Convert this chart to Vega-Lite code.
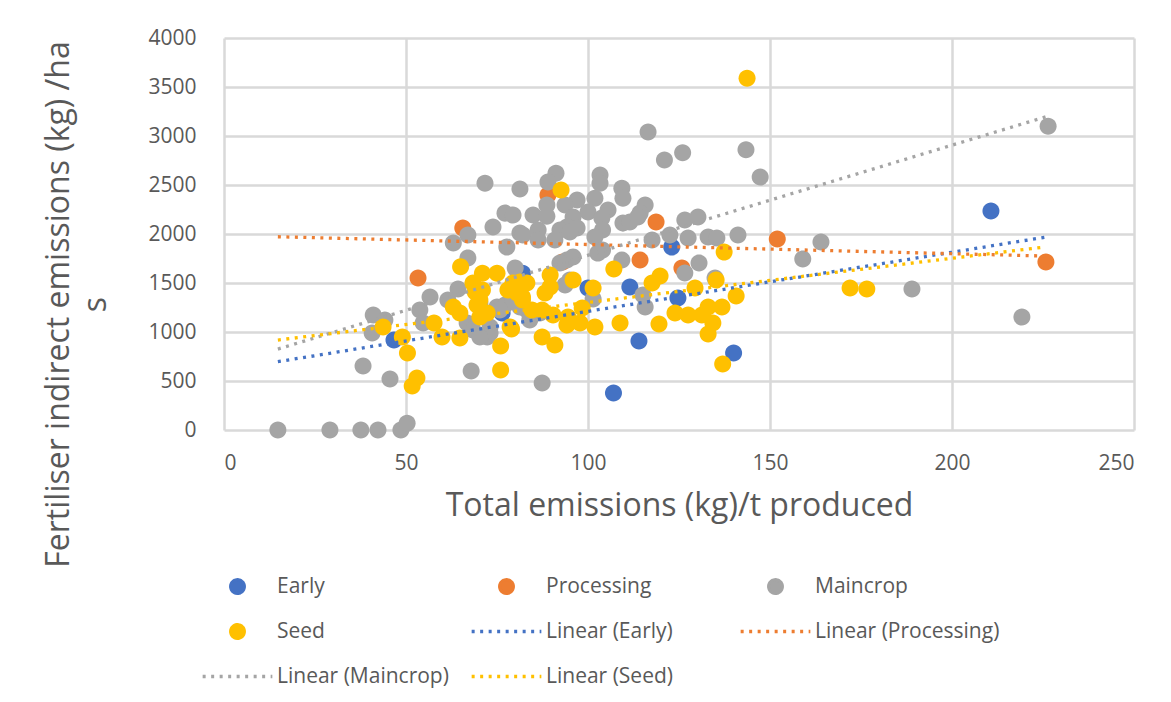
{
  "$schema": "https://vega.github.io/schema/vega-lite/v6.json",
  "width": 910,
  "height": 392,
  "autosize": {"type": "none"},
  "padding": {"left": 224, "top": 38, "right": 37, "bottom": 272},
  "background": "white",
  "config": {
    "font": "Open Sans",
    "view": {"stroke": null},
    "axis": {
      "gridColor": "#D9D9D9",
      "gridWidth": 2.5,
      "domain": false,
      "ticks": false,
      "labelFontSize": 21,
      "labelColor": "#595959",
      "titleColor": "#595959",
      "titleFontSize": 32,
      "titleFontWeight": "normal"
    }
  },
  "datasets": {
    "points": [
      {"series": "Early", "total": 46.7, "fertiliser": 918},
      {"series": "Early", "total": 76.4, "fertiliser": 1193},
      {"series": "Early", "total": 82, "fertiliser": 1600},
      {"series": "Early", "total": 100, "fertiliser": 1448},
      {"series": "Early", "total": 107, "fertiliser": 377},
      {"series": "Early", "total": 111.5, "fertiliser": 1458},
      {"series": "Early", "total": 114, "fertiliser": 908},
      {"series": "Early", "total": 123, "fertiliser": 1867},
      {"series": "Early", "total": 124.7, "fertiliser": 1346},
      {"series": "Early", "total": 140, "fertiliser": 785},
      {"series": "Early", "total": 210.7, "fertiliser": 2234},
      {"series": "Processing", "total": 53.3, "fertiliser": 1550},
      {"series": "Processing", "total": 65.6, "fertiliser": 2060},
      {"series": "Processing", "total": 89, "fertiliser": 2397},
      {"series": "Processing", "total": 93, "fertiliser": 1714},
      {"series": "Processing", "total": 114.3, "fertiliser": 1734},
      {"series": "Processing", "total": 118.7, "fertiliser": 2122},
      {"series": "Processing", "total": 125.8, "fertiliser": 1652},
      {"series": "Processing", "total": 152, "fertiliser": 1948},
      {"series": "Processing", "total": 225.8, "fertiliser": 1714},
      {"series": "Maincrop", "total": 14.8, "fertiliser": 0},
      {"series": "Maincrop", "total": 29.1, "fertiliser": 0},
      {"series": "Maincrop", "total": 37.6, "fertiliser": 0},
      {"series": "Maincrop", "total": 42.3, "fertiliser": 0},
      {"series": "Maincrop", "total": 48.6, "fertiliser": 0},
      {"series": "Maincrop", "total": 50.3, "fertiliser": 70},
      {"series": "Maincrop", "total": 38.2, "fertiliser": 653},
      {"series": "Maincrop", "total": 45.6, "fertiliser": 520},
      {"series": "Maincrop", "total": 67.9, "fertiliser": 602},
      {"series": "Maincrop", "total": 87.4, "fertiliser": 479},
      {"series": "Maincrop", "total": 41, "fertiliser": 1173},
      {"series": "Maincrop", "total": 44.2, "fertiliser": 1122},
      {"series": "Maincrop", "total": 40.7, "fertiliser": 989},
      {"series": "Maincrop", "total": 53.8, "fertiliser": 1224},
      {"series": "Maincrop", "total": 56.6, "fertiliser": 1357},
      {"series": "Maincrop", "total": 54.7, "fertiliser": 1091},
      {"series": "Maincrop", "total": 64.3, "fertiliser": 1438},
      {"series": "Maincrop", "total": 61.5, "fertiliser": 1326},
      {"series": "Maincrop", "total": 67, "fertiliser": 1754},
      {"series": "Maincrop", "total": 63, "fertiliser": 1907},
      {"series": "Maincrop", "total": 67, "fertiliser": 1989},
      {"series": "Maincrop", "total": 73.9, "fertiliser": 2071},
      {"series": "Maincrop", "total": 71.7, "fertiliser": 2519},
      {"series": "Maincrop", "total": 77.2, "fertiliser": 2213},
      {"series": "Maincrop", "total": 79.4, "fertiliser": 2193},
      {"series": "Maincrop", "total": 81.3, "fertiliser": 2458},
      {"series": "Maincrop", "total": 81.3, "fertiliser": 2009},
      {"series": "Maincrop", "total": 77.7, "fertiliser": 1867},
      {"series": "Maincrop", "total": 80, "fertiliser": 1652},
      {"series": "Maincrop", "total": 66.8, "fertiliser": 1091},
      {"series": "Maincrop", "total": 68.4, "fertiliser": 1020},
      {"series": "Maincrop", "total": 72.3, "fertiliser": 949},
      {"series": "Maincrop", "total": 73.1, "fertiliser": 1050},
      {"series": "Maincrop", "total": 75, "fertiliser": 1255},
      {"series": "Maincrop", "total": 77.2, "fertiliser": 1275},
      {"series": "Maincrop", "total": 73.1, "fertiliser": 989},
      {"series": "Maincrop", "total": 83.2, "fertiliser": 1224},
      {"series": "Maincrop", "total": 86.8, "fertiliser": 1193},
      {"series": "Maincrop", "total": 70.3, "fertiliser": 1295},
      {"series": "Maincrop", "total": 79.4, "fertiliser": 1326},
      {"series": "Maincrop", "total": 81.3, "fertiliser": 1255},
      {"series": "Maincrop", "total": 84, "fertiliser": 1122},
      {"series": "Maincrop", "total": 86, "fertiliser": 1193},
      {"series": "Maincrop", "total": 75.8, "fertiliser": 1224},
      {"series": "Maincrop", "total": 70.3, "fertiliser": 949},
      {"series": "Maincrop", "total": 91.2, "fertiliser": 2621},
      {"series": "Maincrop", "total": 89, "fertiliser": 2530},
      {"series": "Maincrop", "total": 103.3, "fertiliser": 2601},
      {"series": "Maincrop", "total": 103.3, "fertiliser": 2519},
      {"series": "Maincrop", "total": 109.3, "fertiliser": 2468},
      {"series": "Maincrop", "total": 109.6, "fertiliser": 2366},
      {"series": "Maincrop", "total": 115.7, "fertiliser": 2295},
      {"series": "Maincrop", "total": 114.3, "fertiliser": 2213},
      {"series": "Maincrop", "total": 97, "fertiliser": 2346},
      {"series": "Maincrop", "total": 93.7, "fertiliser": 2295},
      {"series": "Maincrop", "total": 88.7, "fertiliser": 2295},
      {"series": "Maincrop", "total": 84.9, "fertiliser": 2193},
      {"series": "Maincrop", "total": 101.9, "fertiliser": 2366},
      {"series": "Maincrop", "total": 100, "fertiliser": 2224},
      {"series": "Maincrop", "total": 105.5, "fertiliser": 2244},
      {"series": "Maincrop", "total": 103.8, "fertiliser": 2162},
      {"series": "Maincrop", "total": 95.9, "fertiliser": 2173},
      {"series": "Maincrop", "total": 94.2, "fertiliser": 2071},
      {"series": "Maincrop", "total": 97, "fertiliser": 2060},
      {"series": "Maincrop", "total": 92.3, "fertiliser": 2040},
      {"series": "Maincrop", "total": 109.6, "fertiliser": 2111},
      {"series": "Maincrop", "total": 111.5, "fertiliser": 2122},
      {"series": "Maincrop", "total": 113.7, "fertiliser": 2173},
      {"series": "Maincrop", "total": 104, "fertiliser": 2040},
      {"series": "Maincrop", "total": 101.9, "fertiliser": 1969},
      {"series": "Maincrop", "total": 86.3, "fertiliser": 2040},
      {"series": "Maincrop", "total": 82.1, "fertiliser": 1989},
      {"series": "Maincrop", "total": 86.3, "fertiliser": 1938},
      {"series": "Maincrop", "total": 90.9, "fertiliser": 1938},
      {"series": "Maincrop", "total": 126.6, "fertiliser": 2142},
      {"series": "Maincrop", "total": 130.2, "fertiliser": 2173},
      {"series": "Maincrop", "total": 122.5, "fertiliser": 1989},
      {"series": "Maincrop", "total": 127.5, "fertiliser": 1958},
      {"series": "Maincrop", "total": 133, "fertiliser": 1969},
      {"series": "Maincrop", "total": 135.4, "fertiliser": 1958},
      {"series": "Maincrop", "total": 117.6, "fertiliser": 1938},
      {"series": "Maincrop", "total": 141.2, "fertiliser": 1989},
      {"series": "Maincrop", "total": 104, "fertiliser": 1836},
      {"series": "Maincrop", "total": 102.7, "fertiliser": 1805},
      {"series": "Maincrop", "total": 94.2, "fertiliser": 1734},
      {"series": "Maincrop", "total": 95.9, "fertiliser": 1765},
      {"series": "Maincrop", "total": 92.3, "fertiliser": 1703},
      {"series": "Maincrop", "total": 109.3, "fertiliser": 1734},
      {"series": "Maincrop", "total": 130.5, "fertiliser": 1703},
      {"series": "Maincrop", "total": 126.6, "fertiliser": 1601},
      {"series": "Maincrop", "total": 134.9, "fertiliser": 1550},
      {"series": "Maincrop", "total": 95, "fertiliser": 1530},
      {"series": "Maincrop", "total": 93.7, "fertiliser": 1479},
      {"series": "Maincrop", "total": 101.4, "fertiliser": 1336},
      {"series": "Maincrop", "total": 115.7, "fertiliser": 1255},
      {"series": "Maincrop", "total": 115.1, "fertiliser": 1377},
      {"series": "Maincrop", "total": 116.5, "fertiliser": 3040},
      {"series": "Maincrop", "total": 121, "fertiliser": 2754},
      {"series": "Maincrop", "total": 126, "fertiliser": 2830},
      {"series": "Maincrop", "total": 143.4, "fertiliser": 2860},
      {"series": "Maincrop", "total": 147.3, "fertiliser": 2581},
      {"series": "Maincrop", "total": 159, "fertiliser": 1744},
      {"series": "Maincrop", "total": 164, "fertiliser": 1918},
      {"series": "Maincrop", "total": 189, "fertiliser": 1438},
      {"series": "Maincrop", "total": 219.2, "fertiliser": 1153},
      {"series": "Maincrop", "total": 226.4, "fertiliser": 3100},
      {"series": "Maincrop", "total": 88.7, "fertiliser": 2180},
      {"series": "Maincrop", "total": 95, "fertiliser": 2020},
      {"series": "Seed", "total": 43.7, "fertiliser": 1050},
      {"series": "Seed", "total": 49, "fertiliser": 950},
      {"series": "Seed", "total": 50.4, "fertiliser": 785},
      {"series": "Seed", "total": 53, "fertiliser": 530},
      {"series": "Seed", "total": 51.7, "fertiliser": 449},
      {"series": "Seed", "total": 57.7, "fertiliser": 1091},
      {"series": "Seed", "total": 59.9, "fertiliser": 950},
      {"series": "Seed", "total": 64.8, "fertiliser": 940},
      {"series": "Seed", "total": 65, "fertiliser": 1665},
      {"series": "Seed", "total": 71, "fertiliser": 1600},
      {"series": "Seed", "total": 75, "fertiliser": 1600},
      {"series": "Seed", "total": 63, "fertiliser": 1255},
      {"series": "Seed", "total": 64.8, "fertiliser": 1193},
      {"series": "Seed", "total": 69.5, "fertiliser": 1275},
      {"series": "Seed", "total": 70.3, "fertiliser": 1152},
      {"series": "Seed", "total": 72.3, "fertiliser": 1193},
      {"series": "Seed", "total": 68.4, "fertiliser": 1500},
      {"series": "Seed", "total": 71, "fertiliser": 1428},
      {"series": "Seed", "total": 78, "fertiliser": 1428},
      {"series": "Seed", "total": 79.4, "fertiliser": 1500},
      {"series": "Seed", "total": 78.6, "fertiliser": 1050},
      {"series": "Seed", "total": 76, "fertiliser": 857},
      {"series": "Seed", "total": 76, "fertiliser": 612},
      {"series": "Seed", "total": 79, "fertiliser": 1030},
      {"series": "Seed", "total": 82, "fertiliser": 1357},
      {"series": "Seed", "total": 81.3, "fertiliser": 1510},
      {"series": "Seed", "total": 83.2, "fertiliser": 1500},
      {"series": "Seed", "total": 80.5, "fertiliser": 1397},
      {"series": "Seed", "total": 82, "fertiliser": 1326},
      {"series": "Seed", "total": 84.6, "fertiliser": 1224},
      {"series": "Seed", "total": 87.4, "fertiliser": 1224},
      {"series": "Seed", "total": 89.6, "fertiliser": 1581},
      {"series": "Seed", "total": 89.6, "fertiliser": 1459},
      {"series": "Seed", "total": 88.2, "fertiliser": 1397},
      {"series": "Seed", "total": 92.6, "fertiliser": 2448},
      {"series": "Seed", "total": 95.9, "fertiliser": 1530},
      {"series": "Seed", "total": 101.4, "fertiliser": 1448},
      {"series": "Seed", "total": 98.4, "fertiliser": 1244},
      {"series": "Seed", "total": 94.5, "fertiliser": 1153},
      {"series": "Seed", "total": 94.2, "fertiliser": 1071},
      {"series": "Seed", "total": 97.8, "fertiliser": 1091},
      {"series": "Seed", "total": 101.9, "fertiliser": 1050},
      {"series": "Seed", "total": 90.9, "fertiliser": 867},
      {"series": "Seed", "total": 87.4, "fertiliser": 949},
      {"series": "Seed", "total": 108.8, "fertiliser": 1091},
      {"series": "Seed", "total": 107.1, "fertiliser": 1642},
      {"series": "Seed", "total": 117.6, "fertiliser": 1500},
      {"series": "Seed", "total": 119.8, "fertiliser": 1571},
      {"series": "Seed", "total": 119.5, "fertiliser": 1081},
      {"series": "Seed", "total": 123.9, "fertiliser": 1193},
      {"series": "Seed", "total": 127.5, "fertiliser": 1173},
      {"series": "Seed", "total": 131.3, "fertiliser": 1173},
      {"series": "Seed", "total": 129.4, "fertiliser": 1448},
      {"series": "Seed", "total": 133, "fertiliser": 1255},
      {"series": "Seed", "total": 134.3, "fertiliser": 1091},
      {"series": "Seed", "total": 133, "fertiliser": 979},
      {"series": "Seed", "total": 136.8, "fertiliser": 1255},
      {"series": "Seed", "total": 135.2, "fertiliser": 1530},
      {"series": "Seed", "total": 140.7, "fertiliser": 1367},
      {"series": "Seed", "total": 137.4, "fertiliser": 1816},
      {"series": "Seed", "total": 137, "fertiliser": 673},
      {"series": "Seed", "total": 143.7, "fertiliser": 3590},
      {"series": "Seed", "total": 172, "fertiliser": 1448},
      {"series": "Seed", "total": 176.6, "fertiliser": 1438},
      {"series": "Seed", "total": 70.3, "fertiliser": 1326},
      {"series": "Seed", "total": 90.4, "fertiliser": 1173},
      {"series": "Seed", "total": 69, "fertiliser": 1408}
    ],
    "trends": [
      {"series": "Linear (Early)", "total": 14.8, "fertiliser": 697},
      {"series": "Linear (Early)", "total": 225.8, "fertiliser": 1969},
      {"series": "Linear (Processing)", "total": 14.8, "fertiliser": 1972},
      {"series": "Linear (Processing)", "total": 225.8, "fertiliser": 1775},
      {"series": "Linear (Maincrop)", "total": 14.8, "fertiliser": 826},
      {"series": "Linear (Maincrop)", "total": 226.4, "fertiliser": 3203},
      {"series": "Linear (Seed)", "total": 14.8, "fertiliser": 918},
      {"series": "Linear (Seed)", "total": 225.4, "fertiliser": 1867}
    ]
  },
  "layer": [
    {
      "data": {"name": "points"},
      "mark": {"type": "point", "filled": true, "size": 452, "opacity": 1, "strokeWidth": 0},
      "encoding": {
        "x": {
          "field": "total", "type": "quantitative",
          "scale": {"domain": [0, 250], "nice": false, "zero": true},
          "axis": {"values": [0, 50, 100, 150, 200, 250], "format": "d", "labelPadding": 22, "title": "Total emissions (kg)/t produced", "titlePadding": 17}
        },
        "y": {
          "field": "fertiliser", "type": "quantitative",
          "scale": {"domain": [0, 4000], "nice": false},
          "axis": {"values": [0, 500, 1000, 1500, 2000, 2500, 3000, 3500, 4000], "format": "d", "labelPadding": 28,
                   "title": ["Fertiliser indirect emissions (kg) /ha", "s"],
                   "titleX": -149, "titleY": 266, "titleLineHeight": 37}
        },
        "color": {
          "field": "series", "type": "nominal",
          "scale": {
            "domain": ["Early", "Processing", "Maincrop", "Seed", "Linear (Early)", "Linear (Processing)", "Linear (Maincrop)", "Linear (Seed)"],
            "range": ["#4472C4", "#ED7D31", "#A5A5A5", "#FFC000", "#4472C4", "#ED7D31", "#A5A5A5", "#FFC000"]
          },
          "legend": {
            "title": null,
            "orient": "none",
            "direction": "horizontal",
            "legendX": 3,
            "legendY": 538,
            "columns": 3,
            "gridAlign": "all",
            "columnPadding": 3,
            "rowPadding": 18,
            "symbolSize": 289,
            "symbolStrokeWidth": 3.3,
            "labelOffset": 29,
            "labelFontSize": 21,
            "labelColor": "#595959",
            "labelLimit": 400
          }
        },
        "shape": {
          "field": "series", "type": "nominal",
          "scale": {
            "domain": ["Early", "Processing", "Maincrop", "Seed", "Linear (Early)", "Linear (Processing)", "Linear (Maincrop)", "Linear (Seed)"],
            "range": [
              "M-4.1,0M0.8,0A0.8,0.8,0,1,1,-0.8,0A0.8,0.8,0,1,1,0.8,0ZM4.1,0",
              "M-4.1,0M0.8,0A0.8,0.8,0,1,1,-0.8,0A0.8,0.8,0,1,1,0.8,0ZM4.1,0",
              "M-4.1,0M0.8,0A0.8,0.8,0,1,1,-0.8,0A0.8,0.8,0,1,1,0.8,0ZM4.1,0",
              "M-4.1,0M0.8,0A0.8,0.8,0,1,1,-0.8,0A0.8,0.8,0,1,1,0.8,0ZM4.1,0",
              "M-4.1,0H4.1",
              "M-4.1,0H4.1",
              "M-4.1,0H4.1",
              "M-4.1,0H4.1"
            ]
          },
          "legend": {"title": null}
        }
      }
    },
    {
      "data": {"name": "trends"},
      "mark": {"type": "line", "strokeWidth": 3.3, "strokeCap": "butt"},
      "encoding": {
        "x": {"field": "total", "type": "quantitative"},
        "y": {"field": "fertiliser", "type": "quantitative"},
        "color": {"field": "series", "type": "nominal", "legend": {"title": null}},
        "strokeDash": {
          "field": "series", "type": "nominal",
          "scale": {
            "domain": ["Early", "Processing", "Maincrop", "Seed", "Linear (Early)", "Linear (Processing)", "Linear (Maincrop)", "Linear (Seed)"],
            "range": [[1, 0], [1, 0], [1, 0], [1, 0], [3, 5.5], [3, 5.5], [3, 5.5], [3, 5.5]]
          },
          "legend": {"title": null}
        }
      }
    }
  ]
}
